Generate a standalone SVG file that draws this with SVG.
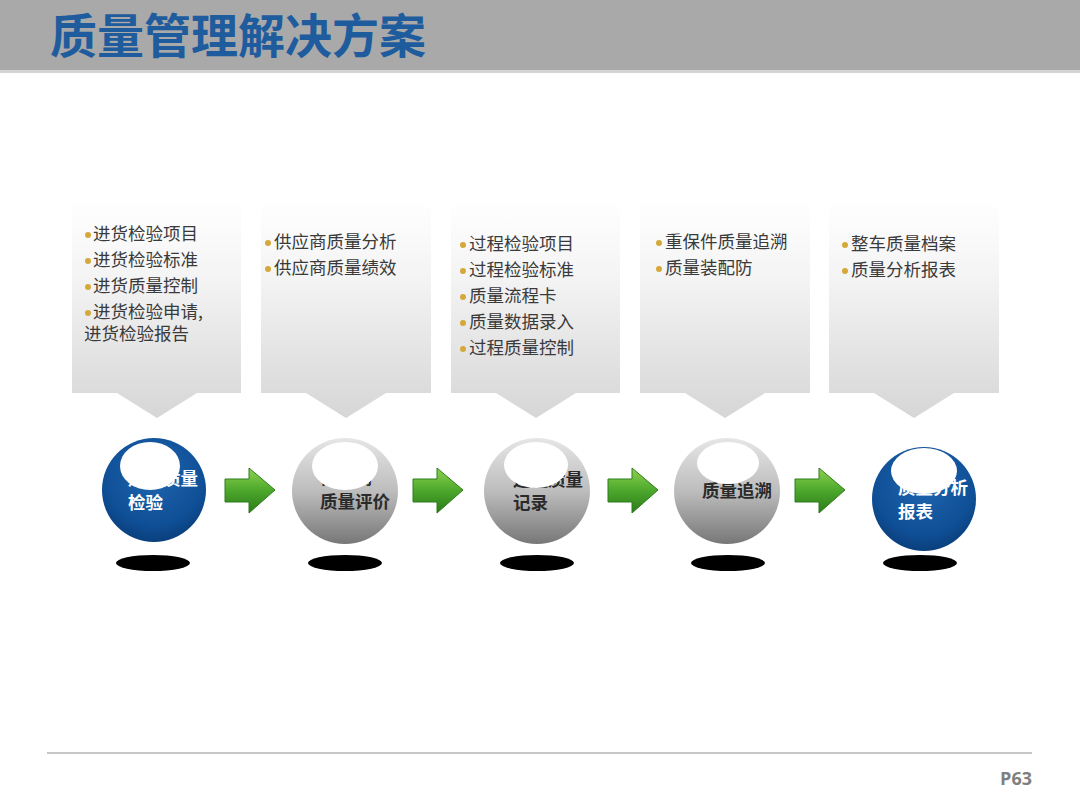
<svg xmlns="http://www.w3.org/2000/svg" width="1080" height="810" viewBox="0 0 1080 810">
<defs>
<linearGradient id="boxg" x1="0" y1="0" x2="0" y2="1">
<stop offset="0" stop-color="#ffffff"/>
<stop offset="0.35" stop-color="#f4f4f4"/>
<stop offset="1" stop-color="#d6d6d6"/>
</linearGradient>
<radialGradient id="blueg" cx="0.5" cy="0.35" r="0.65">
<stop offset="0" stop-color="#1f66b0"/>
<stop offset="0.75" stop-color="#0f4f96"/>
<stop offset="1" stop-color="#0a3f7c"/>
</radialGradient>
<linearGradient id="grayg" x1="0" y1="0" x2="0" y2="1">
<stop offset="0" stop-color="#e6e6e6"/>
<stop offset="0.5" stop-color="#bdbdbd"/>
<stop offset="1" stop-color="#777777"/>
</linearGradient>
<linearGradient id="greeng" x1="0" y1="0" x2="0" y2="1">
<stop offset="0" stop-color="#8fd14f"/>
<stop offset="0.5" stop-color="#4ca82c"/>
<stop offset="1" stop-color="#2b7a18"/>
</linearGradient>
<path id="arr" d="M0,11 H24 V0 L50,22 L24,45 V34 H0 Z"/>
</defs>
<style>
.box{fill:url(#boxg)}
.t{font-family:"Noto Sans CJK SC","Liberation Sans",sans-serif;font-size:17.5px;fill:#3a3a3a}
.dot{fill:#d4a93a}
.sw{font-family:"Noto Sans CJK SC","Liberation Sans",sans-serif;font-size:17.5px;font-weight:bold;fill:#ffffff}
.sd{font-family:"Noto Sans CJK SC","Liberation Sans",sans-serif;font-size:17.5px;font-weight:bold;fill:#2a2a2a}
.hl{fill:#ffffff}
.sh{fill:#000000}
.ga{fill:url(#greeng);stroke:#2f7d1c;stroke-width:1}
</style>
<rect x="0" y="0" width="1080" height="70" fill="#a9a9a9"/>
<rect x="0" y="70" width="1080" height="3" fill="#d4d4d4"/>
<text x="50" y="53" font-family="Noto Sans CJK SC, sans-serif" font-size="47" font-weight="bold" fill="#1f5c9e">质量管理解决方案</text>

<g id="callout1">
<path class="box" d="M72,200 H241 V393 H197 L157,418 L117,393 H72 Z"/>
<circle class="dot" cx="88" cy="235" r="3"/><text class="t" x="93" y="240">进货检验项目</text>
<circle class="dot" cx="88" cy="261" r="3"/><text class="t" x="93" y="266">进货检验标准</text>
<circle class="dot" cx="88" cy="287" r="3"/><text class="t" x="93" y="292">进货质量控制</text>
<circle class="dot" cx="88" cy="313" r="3"/><text class="t" x="93" y="318">进货检验申请,</text>
<text class="t" x="84" y="340">进货检验报告</text>
</g>
<g id="callout2">
<path class="box" d="M261,200 H431 V393 H386 L346,418 L306,393 H261 Z"/>
<circle class="dot" cx="268" cy="243" r="3"/><text class="t" x="274" y="248">供应商质量分析</text>
<circle class="dot" cx="268" cy="269" r="3"/><text class="t" x="274" y="274">供应商质量绩效</text>
</g>
<g id="callout3">
<path class="box" d="M451,200 H620 V393 H576 L536,418 L496,393 H451 Z"/>
<circle class="dot" cx="463" cy="245" r="3"/><text class="t" x="469" y="250">过程检验项目</text>
<circle class="dot" cx="463" cy="271" r="3"/><text class="t" x="469" y="276">过程检验标准</text>
<circle class="dot" cx="463" cy="297" r="3"/><text class="t" x="469" y="302">质量流程卡</text>
<circle class="dot" cx="463" cy="323" r="3"/><text class="t" x="469" y="328">质量数据录入</text>
<circle class="dot" cx="463" cy="349" r="3"/><text class="t" x="469" y="354">过程质量控制</text>
</g>
<g id="callout4">
<path class="box" d="M640,200 H810 V393 H765 L725,418 L685,393 H640 Z"/>
<circle class="dot" cx="659" cy="243" r="3"/><text class="t" x="665" y="248">重保件质量追溯</text>
<circle class="dot" cx="659" cy="269" r="3"/><text class="t" x="665" y="274">质量装配防</text>
</g>
<g id="callout5">
<path class="box" d="M829,200 H999 V393 H954 L914,418 L874,393 H829 Z"/>
<circle class="dot" cx="845" cy="245" r="3"/><text class="t" x="851" y="250">整车质量档案</text>
<circle class="dot" cx="845" cy="271" r="3"/><text class="t" x="851" y="276">质量分析报表</text>
</g>

<g id="sphere1">
<ellipse class="sh" cx="153" cy="563" rx="37" ry="8"/>
<circle cx="154" cy="490" r="52" fill="url(#blueg)"/>
<text class="sw" x="128" y="485">进货质量</text>
<text class="sw" x="128" y="509">检验</text>
<ellipse class="hl" cx="150" cy="466" rx="30" ry="24"/>
</g>
<g id="sphere2">
<ellipse class="sh" cx="345" cy="563" rx="37" ry="8"/>
<circle cx="345" cy="491" r="53" fill="url(#grayg)"/>
<text class="sd" x="320" y="484">供应商</text>
<text class="sd" x="320" y="508">质量评价</text>
<ellipse class="hl" cx="345" cy="466" rx="33" ry="24"/>
</g>
<g id="sphere3">
<ellipse class="sh" cx="537" cy="563" rx="37" ry="8"/>
<circle cx="537" cy="491" r="53" fill="url(#grayg)"/>
<text class="sd" x="513" y="486">过程质量</text>
<text class="sd" x="513" y="509">记录</text>
<ellipse class="hl" cx="536" cy="465" rx="32" ry="23"/>
</g>
<g id="sphere4">
<ellipse class="sh" cx="728" cy="563" rx="37" ry="8"/>
<circle cx="727" cy="491" r="53" fill="url(#grayg)"/>
<text class="sd" x="702" y="497">质量追溯</text>
<ellipse class="hl" cx="728" cy="463" rx="31" ry="21"/>
</g>
<g id="sphere5">
<ellipse class="sh" cx="920" cy="563" rx="37" ry="8"/>
<circle cx="924" cy="499" r="52" fill="url(#blueg)"/>
<text class="sw" x="898" y="494">质量分析</text>
<text class="sw" x="898" y="518">报表</text>
<ellipse class="hl" cx="924" cy="471" rx="33" ry="23"/>
</g>

<g id="connectors">
<use href="#arr" class="ga" x="225" y="468"/>
<use href="#arr" class="ga" x="413" y="468"/>
<use href="#arr" class="ga" x="608" y="468"/>
<use href="#arr" class="ga" x="795" y="468"/>
</g>

<line x1="47" y1="753" x2="1032" y2="753" stroke="#b5b5b5" stroke-width="1.5"/>
<text x="1032" y="785" text-anchor="end" font-family="Open Sans, Liberation Sans, sans-serif" font-size="18" font-weight="bold" fill="#7f7f7f">P63</text>
</svg>
